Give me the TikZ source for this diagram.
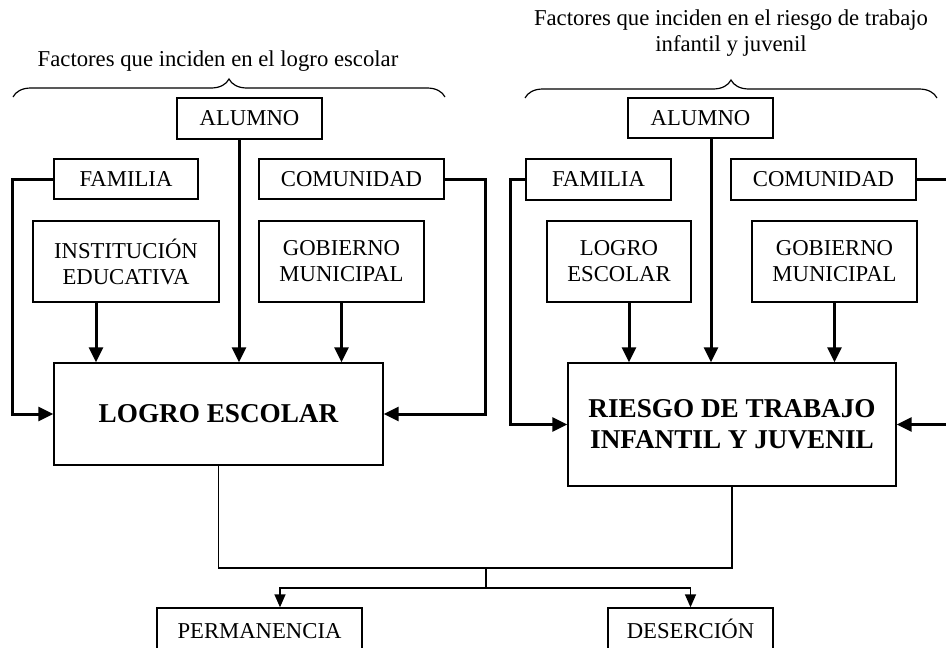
\documentclass[tikz,border=0pt]{standalone}
\usepackage{fontspec}
\setmainfont{Liberation Serif}
\usetikzlibrary{arrows.meta,decorations.pathreplacing}
\newcommand\rkNorm{\fontsize{22.7}{26}\selectfont}
\newcommand\rkBig{\fontsize{27.2}{31}\selectfont\bfseries}
\tikzset{
  bx/.style 2 args={draw, line width=1.4pt, minimum width=#1pt, minimum height=#2pt,
    inner sep=0pt, align=center, font=\rkNorm},
  bigbx/.style 2 args={bx={#1}{#2}, font=\rkBig},
  capbx/.style={text height=15pt, text depth=0pt},
  thk/.style={line width=3pt, -{Triangle[length=15pt,width=14pt]}},
  thkline/.style={line width=3pt},
  thn/.style={line width=1.5pt},
  thnarr/.style={line width=1.5pt, -{Triangle[length=13pt,width=11pt]}},
  brc/.style={line width=1.2pt, decorate, decoration={brace, amplitude=18pt}},
  ttl/.style={font=\rkNorm, inner sep=0pt, align=center}
}
\begin{document}
\begin{tikzpicture}[x=1pt,y=-1pt]
\useasboundingbox (0,0) rectangle (946,648);
\clip (0,0) rectangle (946,648);
% titles
\node[ttl, anchor=base] (t1) at (218,66) {Factores que inciden en el logro escolar};
\node[ttl] (t2) at (731,33.5) {Factores que inciden en el riesgo de trabajo\\infantil y juvenil};
% braces
\coordinate (b1a) at (13,97);
\coordinate (b1b) at (445,97);
\coordinate (b2a) at (525,98);
\coordinate (b2b) at (937,98);
\draw[brc] (b1a) -- (b1b);
\draw[brc] (b2a) -- (b2b);
% left group
\node[bx={145}{41}] (alu1) at (249.5,118.5) {ALUMNO};
\node[bx={144}{40}] (fam1) at (126,179) {FAMILIA};
\node[bx={185}{40}] (com1) at (351.5,179) {COMUNIDAD};
\node[bx={186}{81}] (ins1) at (126,261.5) {INSTITUCIÓN\\EDUCATIVA};
\node[bx={165}{81}] (gob1) at (341.5,261.5) {GOBIERNO\\MUNICIPAL};
\node[bigbx={329}{102}] (log1) at (218.5,414) {LOGRO ESCOLAR};
% right group
\node[bx={145}{40}] (alu2) at (700.5,118) {ALUMNO};
\node[bx={145}{41}] (fam2) at (598.5,179.5) {FAMILIA};
\node[bx={185}{41}] (com2) at (823.5,179.5) {COMUNIDAD};
\node[bx={144}{81}] (lgr2) at (619,261.5) {LOGRO\\ESCOLAR};
\node[bx={165}{81}] (gob2) at (834.5,261.5) {GOBIERNO\\MUNICIPAL};
\node[bigbx={328}{123}] (rie) at (732,424.5) {RIESGO DE TRABAJO\\INFANTIL Y JUVENIL};
% bottom
\node[bx={205}{46}, capbx] (perm) at (259.5,631) {PERMANENCIA};
\node[bx={165}{46}, capbx] (des) at (690.5,631) {DESERCIÓN};
% left connectors
\draw[thk] ([xshift=-30pt]ins1.south) -- ([xshift=-30pt]ins1.south |- log1.north);
\draw[thk] ([xshift=-10.5pt]alu1.south) -- ([xshift=-10.5pt]alu1.south |- log1.north);
\draw[thk] (gob1.south) -- (gob1.south |- log1.north);
\draw[thk] (fam1.west) -- ++(-41,0) |- (log1.west);
\draw[thk] (com1.east) -- ++(41,0) |- (log1.east);
% right connectors
\draw[thk] ([xshift=10pt]lgr2.south) -- ([xshift=10pt]lgr2.south |- rie.north);
\draw[thk] ([xshift=10.5pt]alu2.south) -- ([xshift=10.5pt]alu2.south |- rie.north);
\draw[thk] (gob2.south) -- (gob2.south |- rie.north);
\draw[thk] (fam2.west) -- ++(-15,0) |- (rie.west);
\coordinate (edgeA) at (950,179.5);
\coordinate (edgeB) at (950,424.5);
\draw[thkline] (com2.east) -- (edgeA);
\draw[thk] (edgeB) -- (rie.east);
% lower connectors
\coordinate (j1) at (486,568);
\coordinate (j2) at (486,588);
\draw[thn] (log1.south) |- (j1) -| (rie.south);
\draw[thn] (j1) -- (j2);
\draw[thnarr] (j2) -| ([xshift=20.5pt]perm.north);
\draw[thnarr] (j2) -| (des.north);
\end{tikzpicture}
\end{document}
